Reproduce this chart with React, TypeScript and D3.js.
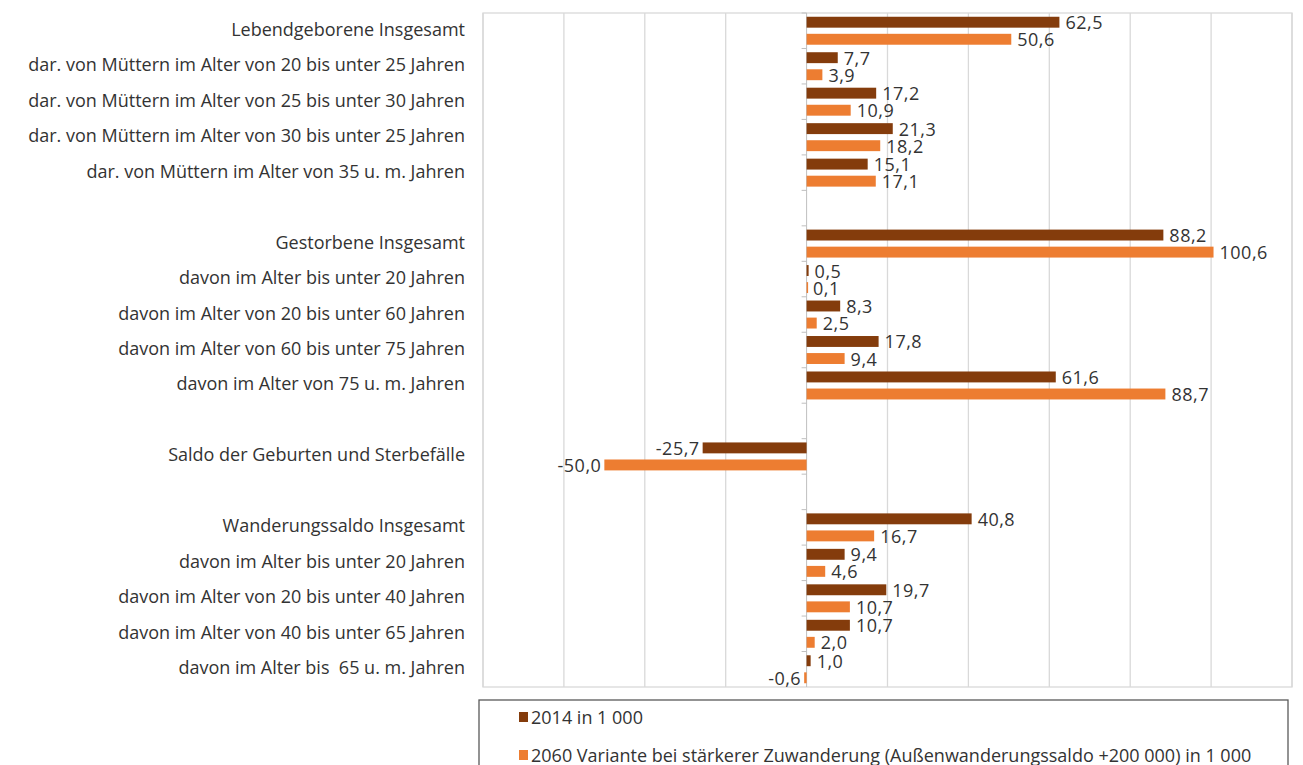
import React from "react";
import * as d3 from "d3";

const categories: string[] = [
  "Lebendgeborene Insgesamt",
  "dar. von Müttern im Alter von 20 bis unter 25 Jahren",
  "dar. von Müttern im Alter von 25 bis unter 30 Jahren",
  "dar. von Müttern im Alter von 30 bis unter 25 Jahren",
  "dar. von Müttern im Alter von 35 u. m. Jahren",
  "",
  "Gestorbene Insgesamt",
  "davon im Alter bis unter 20 Jahren",
  "davon im Alter von 20 bis unter 60 Jahren",
  "davon im Alter von 60 bis unter 75 Jahren",
  "davon im Alter von 75 u. m. Jahren",
  " ",
  "Saldo der Geburten und Sterbefälle",
  "  ",
  "Wanderungssaldo Insgesamt",
  "davon im Alter bis unter 20 Jahren ",
  "davon im Alter von 20 bis unter 40 Jahren",
  "davon im Alter von 40 bis unter 65 Jahren",
  "davon im Alter bis  65 u. m. Jahren",
];

const values2014: (number | null)[] = [
  62.5, 7.7, 17.2, 21.3, 15.1, null, 88.2, 0.5, 8.3, 17.8, 61.6, null, -25.7, null, 40.8, 9.4, 19.7, 10.7, 1.0,
];
const values2060: (number | null)[] = [
  50.6, 3.9, 10.9, 18.2, 17.1, null, 100.6, 0.1, 2.5, 9.4, 88.7, null, -50.0, null, 16.7, 4.6, 10.7, 2.0, -0.6,
];

const seriesNames: string[] = [
  "2014 in 1 000",
  "2060 Variante bei stärkerer Zuwanderung (Außenwanderungssaldo +200 000) in 1 000",
];
const seriesColors: string[] = ["#843C0C", "#ED7D31"];
const xTicks: number[] = [-80, -60, -40, -20, 0, 20, 40, 60, 80, 100, 120];

const W = 1303;
const H = 765;
const FONT = "'Open Sans', 'Noto Sans', sans-serif";
const TXT = "#333333";

export default function App() {
  const left = 483;
  const right = 1292;
  const top = 13;
  const bottom = 687;

  const x = d3.scaleLinear().domain([-80, 120]).range([left, right]);
  const y = d3
    .scaleBand<number>()
    .domain(categories.map((_, i) => i))
    .range([top, bottom])
    .paddingInner(0)
    .paddingOuter(0);
  const sub = d3
    .scaleBand<number>()
    .domain([0, 1])
    .range([0, y.bandwidth()])
    .paddingInner(0.36)
    .paddingOuter(0.22);

  const fmt = (v: number) => d3.format(".1f")(v).replace(".", ",").replace("−", "-");

  const series = [values2014, values2060];

  return (
    <svg width={W} height={H} style={{ position: "absolute", left: 0, top: 0 }} fontFamily={FONT}>
      <rect x={0} y={0} width={W} height={H} fill="#fff" />
      {/* gridlines */}
      {xTicks
        .filter((t) => t !== 0)
        .map((t) => (
          <line key={t} x1={x(t)} x2={x(t)} y1={top} y2={bottom} stroke="#d9d9d9" strokeWidth={1.3} />
        ))}
      <rect x={left} y={top} width={right - left} height={bottom - top} fill="none" stroke="#d9d9d9" strokeWidth={1.3} />
      {/* zero axis */}
      <line x1={x(0)} x2={x(0)} y1={top} y2={bottom} stroke="#bfbfbf" strokeWidth={1} />
      {categories.map((_, i) => (
        <line key={"t" + i} x1={x(0) - 5} x2={x(0)} y1={y(i) as number} y2={y(i) as number} stroke="#bfbfbf" />
      ))}
      {/* category labels */}
      {categories.map((c, i) => (
        <text
          key={"c" + i}
          x={465}
          y={(y(i) as number) + y.bandwidth() / 2 - 2}
          textAnchor="end"
          dominantBaseline="central"
          fontSize={18}
          fill={TXT}
          style={{ whiteSpace: "pre" }}
        >
          {c.trim()}
        </text>
      ))}
      {/* bars */}
      {series.map((vals, s) =>
        vals.map((v, i) => {
          if (v === null) return null;
          const by = (y(i) as number) + (sub(s) as number);
          const x0 = x(Math.min(0, v));
          const x1 = x(Math.max(0, v));
          return (
            <g key={"b" + s + "-" + i}>
              <rect x={x0} y={by} width={Math.max(x1 - x0, 1.5)} height={sub.bandwidth()} fill={seriesColors[s]} />
              <text
                x={v >= 0 ? x1 + 6 : x0 - 3}
                y={by + sub.bandwidth() / 2}
                textAnchor={v >= 0 ? "start" : "end"}
                dominantBaseline="central"
                fontSize={18}
                letterSpacing={0.5}
                fill={TXT}
              >
                {fmt(v)}
              </text>
            </g>
          );
        })
      )}
      {/* legend */}
      <rect x={479} y={700} width={809} height={90} fill="none" stroke="#595959" strokeWidth={1.3} />
      {seriesNames.map((n, s) => (
        <g key={"l" + s}>
          <rect x={519} y={712 + s * 38} width={9} height={10} fill={seriesColors[s]} />
          <text x={531} y={717 + s * 38} dominantBaseline="central" fontSize={18} fill={TXT}>
            {n}
          </text>
        </g>
      ))}
    </svg>
  );
}
